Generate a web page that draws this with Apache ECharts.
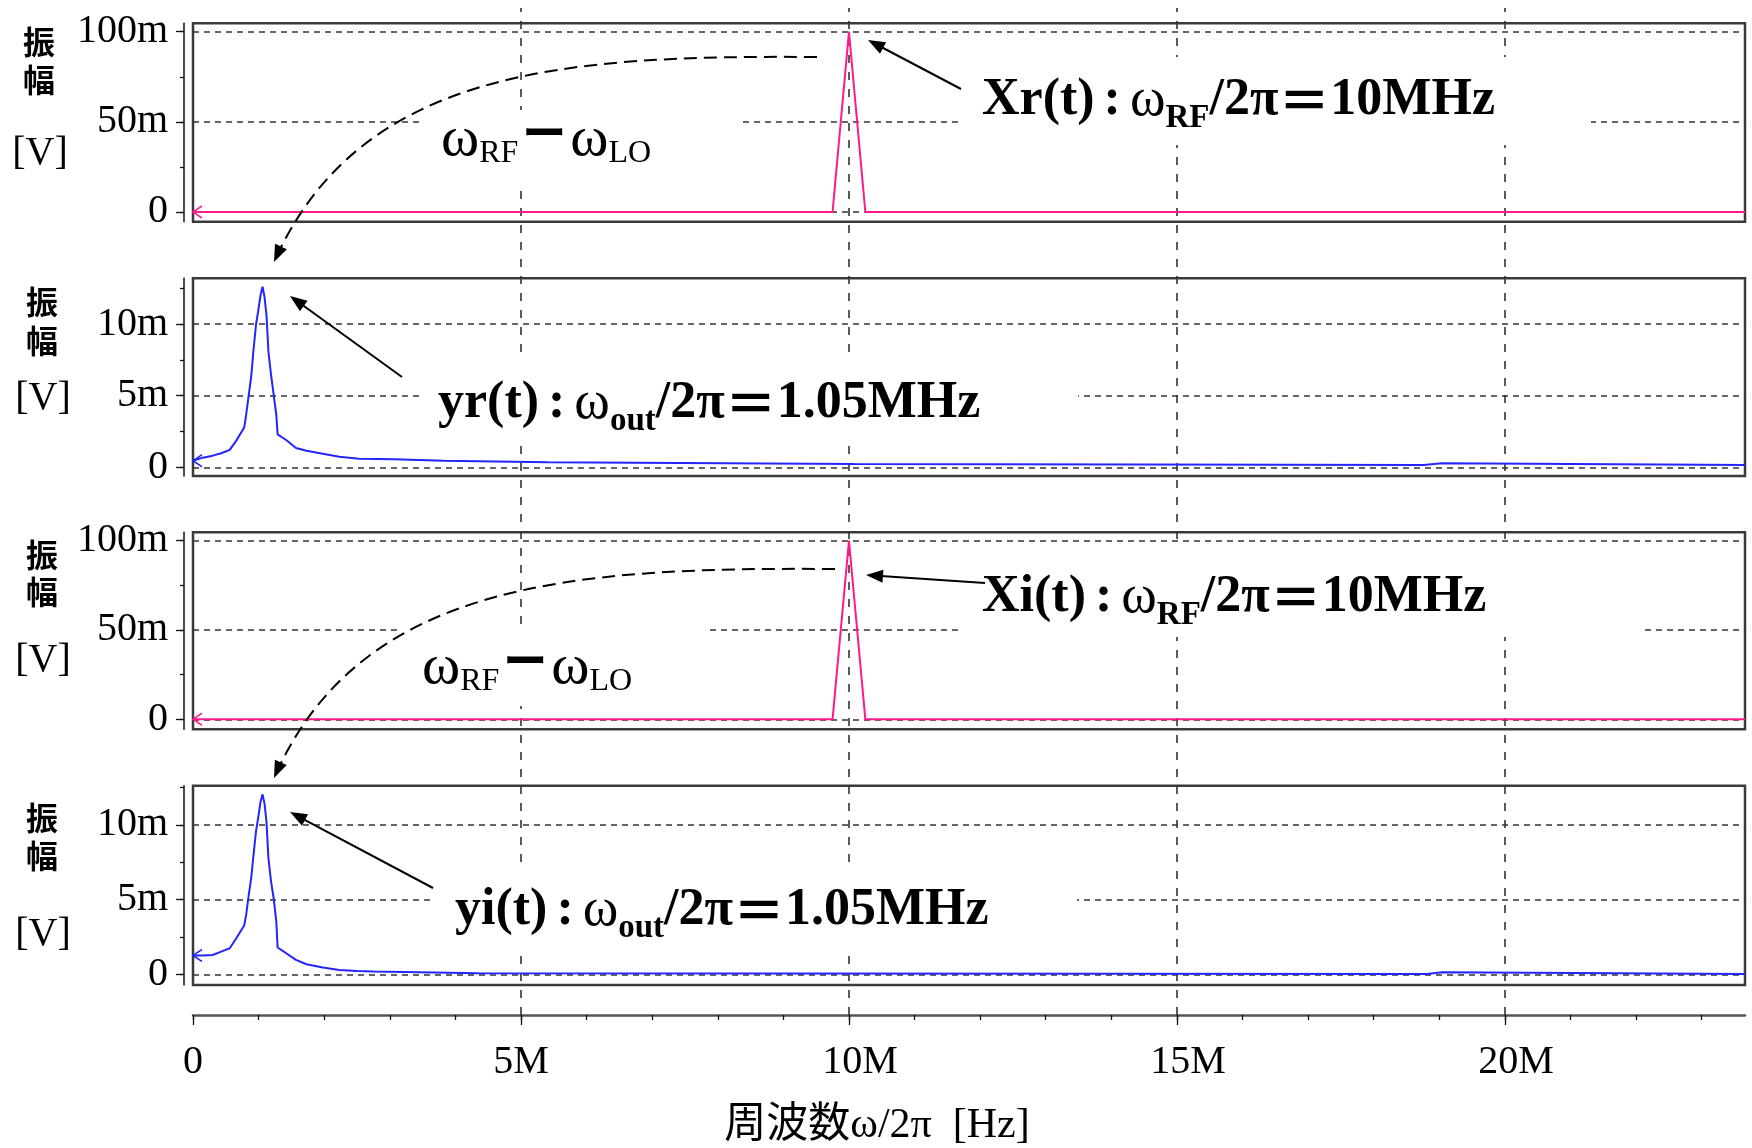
<!DOCTYPE html>
<html>
<head>
<meta charset="utf-8">
<script src="https://cdn.jsdelivr.net/npm/echarts@6.0.0/dist/echarts.min.js"></script>
<style>
html,body{margin:0;padding:0;background:#ffffff;}
#chart{width:1752px;height:1148px;}
</style>
</head>
<body>
<div id="chart"></div>
<script>
// ---------------- data (frequency in MHz, amplitude in mV) ----------------
const xTickValues = [0, 5, 10, 15, 20];
const xMinorTickValues = [0,1,2,3,4,5,6,7,8,9,10,11,12,13,14,15,16,17,18,19,20,21,22,23];
const xAxisMax = 23.66;
const bigTickValues = [0, 50, 100];
const bigMinorTickValues = [0, 25, 50, 75, 100];
const smallTickValues = [0, 5, 10];
const smallMinorTickValues = [0, 2.5, 5, 7.5, 10, 12.5];
const panelRanges = [[-5.38, 104.66], [-0.61, 13.19], [-5.6, 104.7], [-0.72, 12.63]];

const xrSpectrum = [[0,0],[9.75,0],[10,100],[10.25,0],[23.66,0]];
const xiSpectrum = [[0,0],[9.75,0],[10,100],[10.25,0],[23.66,0]];
const yrSpectrum = [[0,0.45],[0.15,0.67],[0.30,0.81],[0.43,0.98],[0.56,1.21],[0.66,1.86],[0.78,2.77],
  [0.81,3.65],[0.85,5.05],[0.89,6.44],[0.92,8.07],[0.96,9.93],[1.00,11.09],[1.03,12.02],[1.06,12.6],
  [1.09,11.9],[1.12,10.63],[1.15,8.07],[1.19,6.44],[1.23,5.05],[1.27,3.65],[1.29,2.30],[1.42,1.90],
  [1.57,1.35],[1.73,1.15],[1.98,0.95],[2.23,0.74],[2.53,0.60],[3.06,0.56],[3.06,0.46],[3.82,0.46],
  [3.82,0.35],[5.41,0.35],[5.41,0.23],[10.08,0.23],[10.08,0.16],[18.76,0.16],[18.76,0.28],[19.04,0.28],
  [19.04,0.16],[23.66,0.16]];
const yiSpectrum = [[0,1.25],[0.15,1.25],[0.30,1.29],[0.43,1.52],[0.56,1.74],[0.66,2.41],[0.78,3.26],
  [0.81,3.97],[0.85,5.31],[0.89,6.54],[0.92,7.88],[0.96,9.55],[1.00,10.67],[1.03,11.56],[1.06,12.05],
  [1.09,11.45],[1.12,10.22],[1.15,7.77],[1.19,6.21],[1.23,5.09],[1.27,3.53],[1.29,1.79],[1.42,1.41],
  [1.57,0.96],[1.73,0.67],[1.98,0.45],[2.23,0.29],[2.50,0.22],[2.75,0.18],[2.75,0.07],[4.35,0.07],
  [4.35,0.02],[18.81,0.02],[18.81,0.13],[19.04,0.13],[19.04,0.02],[23.66,0.02]];

// ---------------- layout / style ----------------
const PINK = '#ff1a8c', BLUE = '#2424ff', GRIDC = '#333333', INK = '#111111';
const SERIF = 'Liberation Serif';
const CJK = 'Noto Sans CJK JP';
const PLOT_LEFT = 193, PLOT_WIDTH = 1552;
const panelLayout = [
  {top: 23.3, height: 198.4}, {top: 278.3, height: 197.7},
  {top: 532.3, height: 197.0}, {top: 785.7, height: 199.3}
];
const panelKinds = ['big', 'small', 'big', 'small'];
const panelSeries = [xrSpectrum, yrSpectrum, xiSpectrum, yiSpectrum];
const panelColors = [PINK, BLUE, PINK, BLUE];

const grids = panelLayout.map(p => ({
  left: PLOT_LEFT, width: PLOT_WIDTH, top: p.top, height: p.height, outerBoundsMode: 'none',
  containLabel: false,
  show: true, borderColor: '#3a3a3a', borderWidth: 2.5, backgroundColor: 'transparent'
}));
grids.push({left: PLOT_LEFT, width: PLOT_WIDTH, top: 8, height: 1007, show: false,
  outerBoundsMode: 'none', containLabel: false});

const xAxes = panelLayout.map((p, i) => ({
  type: 'value', gridIndex: i, min: 0, max: xAxisMax, show: false
}));
xAxes.push({
  type: 'value', gridIndex: 4, min: 0, max: xAxisMax, position: 'bottom',
  axisLine: {show: true, onZero: false, lineStyle: {color: '#555', width: 2.5}},
  axisTick: {show: true, customValues: xMinorTickValues, length: 5, lineStyle: {color: INK, width: 1.3}},
  axisLabel: {show: false}, splitLine: {show: false}
});
xAxes.push({
  type: 'value', gridIndex: 4, min: 0, max: xAxisMax, position: 'bottom',
  axisLine: {show: false, onZero: false},
  axisTick: {show: true, customValues: xTickValues, length: 10, lineStyle: {color: INK, width: 1.3}},
  axisLabel: {
    show: true, customValues: xTickValues, margin: 27, color: '#000',
    fontFamily: SERIF, fontSize: 40,
    formatter: v => v === 0 ? '0' : (v >= 10 ? '{p|' + v + 'M}' : v + 'M'),
    rich: {p: {fontFamily: SERIF, fontSize: 40, color: '#000', padding: [0, 0, 0, 22]}}
  },
  splitLine: {show: false},
  name: '周波数ω/2π  [Hz]', nameLocation: 'middle', nameGap: 90,
  nameTextStyle: {fontFamily: SERIF + ', ' + CJK, fontSize: 42, color: '#000', padding: [0, 184, 0, 0]}
});

const yAxes = [];
panelLayout.forEach((p, i) => {
  const big = panelKinds[i] === 'big';
  yAxes.push({
    type: 'value', gridIndex: i, min: panelRanges[i][0], max: panelRanges[i][1],
    position: 'left', offset: 9,
    axisLine: {show: true, onZero: false, lineStyle: {color: INK, width: 1.5}},
    axisTick: {show: true, customValues: big ? bigTickValues : smallTickValues, length: 8,
      lineStyle: {color: INK, width: 1.3}},
    axisLabel: {show: true, customValues: big ? bigTickValues : smallTickValues, margin: 16,
      color: '#000', fontFamily: SERIF, fontSize: 40,
      formatter: v => v === 0 ? '0' : v + 'm'},
    splitLine: {show: false}
  });
  yAxes.push({
    type: 'value', gridIndex: i, min: panelRanges[i][0], max: panelRanges[i][1],
    position: 'left', offset: 9,
    axisLine: {show: false, onZero: false},
    axisTick: {show: true, customValues: big ? bigMinorTickValues : smallMinorTickValues, length: 4,
      lineStyle: {color: INK, width: 1.3}},
    axisLabel: {show: false}, splitLine: {show: false}
  });
});
yAxes.push({type: 'value', gridIndex: 4, min: 0, max: 1, show: false});

const series = [];
panelSeries.forEach((d, i) => {
  const col = panelColors[i];
  series.push({
    type: 'line', xAxisIndex: i, yAxisIndex: 2 * i, z: 5,
    symbol: 'none', showSymbol: true, silent: true,
    lineStyle: {color: col, width: 2},
    itemStyle: {color: col},
    data: d.map((pt, k) => k === 0 ? {
      value: pt, symbol: 'path://M12,0L0,6L12,12', symbolSize: [9, 12], symbolOffset: [4.5, 0],
      itemStyle: {color: 'rgba(0,0,0,0)', borderColor: col, borderWidth: 1.5}
    } : pt)
  });
});
panelLayout.forEach((p, i) => {
  const vals = panelKinds[i] === 'big' ? bigTickValues : smallTickValues;
  series.push({
    type: 'line', xAxisIndex: i, yAxisIndex: 2 * i, z: 1, data: [], silent: true,
    markLine: {
      silent: true, symbol: ['none', 'none'], label: {show: false}, animation: false,
      lineStyle: {color: GRIDC, width: 1.6, type: [6, 5]},
      emphasis: {disabled: true},
      data: vals.map(v => ({yAxis: v}))
    }
  });
});
series.push({
  type: 'line', xAxisIndex: 4, yAxisIndex: 8, z: 1, data: [], silent: true,
  markLine: {
    silent: true, symbol: ['none', 'none'], label: {show: false}, animation: false,
    lineStyle: {color: GRIDC, width: 1.6, type: [8, 9]},
    emphasis: {disabled: true},
    data: xTickValues.filter(v => v > 0).map(v => ({xAxis: v}))
  }
});

// ---------------- annotations ----------------
const graphics = [];
function whiteBox(x1, y1, x2, y2) {
  graphics.push({type: 'rect', z: 50, silent: true,
    shape: {x: x1, y: y1, width: x2 - x1, height: y2 - y1}, style: {fill: '#ffffff'}});
}
function txt(x, y, text, style) {
  graphics.push({type: 'text', z: 60, x: x, y: y, silent: true,
    style: Object.assign({text: text, fill: '#000', align: 'center', verticalAlign: 'middle'}, style)});
}
function head(tx, ty, fx, fy) {
  const L = 17, W = 6.5;
  const dx = tx - fx, dy = ty - fy, d = Math.hypot(dx, dy);
  const ux = dx / d, uy = dy / d;
  const bx = tx - ux * L, by = ty - uy * L;
  graphics.push({type: 'polygon', z: 61, silent: true,
    shape: {points: [[tx, ty], [bx - uy * W, by + ux * W], [bx + uy * W, by - ux * W]]},
    style: {fill: '#000'}});
  return [bx + ux * 2, by + uy * 2];
}
function arrow(x1, y1, x2, y2) {
  const b = head(x2, y2, x1, y1);
  graphics.push({type: 'line', z: 60, silent: true,
    shape: {x1: x1, y1: y1, x2: b[0], y2: b[1]}, style: {stroke: '#000', lineWidth: 2}});
}
function curve(p0, c1, c2, p3) {
  graphics.push({type: 'bezierCurve', z: 60, silent: true,
    shape: {x1: p0[0], y1: p0[1], cpx1: c1[0], cpy1: c1[1], cpx2: c2[0], cpy2: c2[1], x2: p3[0], y2: p3[1]},
    style: {stroke: '#000', lineWidth: 2, lineDash: [13, 7], fill: null}});
  head(p3[0], p3[1], c2[0], c2[1]);
}

// white label boxes
whiteBox(419, 110, 740, 182);
whiteBox(963, 57, 1591, 145);
whiteBox(419, 352, 1078, 446);
whiteBox(963, 548, 1644, 637);
whiteBox(402, 628, 705, 706);
whiteBox(433, 868, 1077, 952);

// y-axis titles
const yTitlePos = [[39, 42, 80, 153], [42, 302, 341, 398], [42, 555, 592, 660], [42, 818, 856, 934]];
yTitlePos.forEach(p => {
  txt(p[0], p[1], '振', {fontFamily: CJK, fontWeight: 'bold', fontSize: 32});
  txt(p[0], p[2], '幅', {fontFamily: CJK, fontWeight: 'bold', fontSize: 32});
  txt(p[0] + 1, p[3], '[V]', {fontFamily: SERIF, fontSize: 40});
});

const richBig = {
  b: {fontFamily: SERIF, fontWeight: 'bold', fontSize: 52, lineHeight: 60, fill: '#000'},
  c: {fontFamily: SERIF, fontWeight: 'bold', fontSize: 52, lineHeight: 60, fill: '#000', padding: [0, 9, 0, 9]},
  w: {fontFamily: SERIF, fontSize: 54, lineHeight: 60, fill: '#000'},
  s: {fontFamily: SERIF, fontWeight: 'bold', fontSize: 33, lineHeight: 60, fill: '#000', padding: [36, 0, 0, 0]},
  e: {fontFamily: CJK, fontWeight: 'bold', fontSize: 52, lineHeight: 60, fill: '#000'}
};
const richW = {
  w: {fontFamily: SERIF, fontSize: 58, lineHeight: 64, fill: '#000'},
  s: {fontFamily: SERIF, fontSize: 32, lineHeight: 64, fill: '#000', padding: [28, 0, 0, 0]},
  d: {fontFamily: CJK, fontWeight: 'bold', fontSize: 44, lineHeight: 64, fill: '#000', padding: [0, 4, 15, 4]}
};
function richText(x, y, text, rich) {
  graphics.push({type: 'text', z: 60, x: x, y: y, silent: true,
    style: {text: text, rich: rich, align: 'left', verticalAlign: 'middle', fill: '#000'}});
}
richText(441, 140, '{w|ω}{s|RF}{d|ー}{w|ω}{s|LO}', richW);
richText(422, 668, '{w|ω}{s|RF}{d|ー}{w|ω}{s|LO}', richW);
richText(982, 100.5, '{b|Xr(t)}{c|:}{w|ω}{s|RF}{b|/2π}{e|＝}{b|10MHz}', richBig);
richText(982, 597.5, '{b|Xi(t)}{c|:}{w|ω}{s|RF}{b|/2π}{e|＝}{b|10MHz}', richBig);
richText(438, 403.5, '{b|yr(t)}{c|:}{w|ω}{s|out}{b|/2π}{e|＝}{b|1.05MHz}', richBig);
richText(455, 910.5, '{b|yi(t)}{c|:}{w|ω}{s|out}{b|/2π}{e|＝}{b|1.05MHz}', richBig);

// arrows
arrow(961, 89, 868, 40);
arrow(402, 377, 290, 296);
arrow(985, 583, 866, 575);
arrow(433, 888, 290, 812);
curve([817, 57], [560, 55], [360, 70], [274, 262]);
curve([835, 569], [570, 567], [360, 582], [274, 778]);

const chart = echarts.init(document.getElementById('chart'), null, {renderer: 'canvas', width: 1752, height: 1148});
chart.setOption({
  backgroundColor: '#ffffff',
  animation: false,
  grid: grids,
  xAxis: xAxes,
  yAxis: yAxes,
  series: series,
  graphic: {elements: graphics}
});
</script>
</body>
</html>
